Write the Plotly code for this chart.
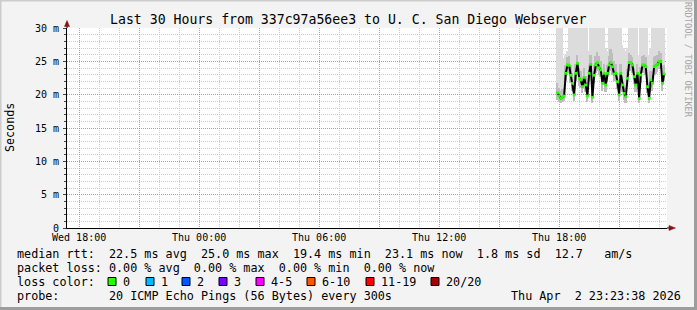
import plotly.graph_objects as go
import pandas as pd

# ---------------- data ----------------
times = pd.date_range("2026-04-02 17:55", periods=65, freq="5min")

median_ms = [20.3, 19.8, 19.45, 19.6, 19.8, 23.2, 24.45, 24.4, 22.9, 21.7,
             19.95, 23.2, 24.7, 22.45, 22.2, 21.2, 22.6, 21.45, 19.8, 23.2,
             24.55, 19.6, 22.9, 24.45, 24.8, 24.05, 23.7, 21.7, 23.2, 21.45,
             23.2, 24.45, 24.8, 24.2, 23.1, 23.2, 21.95, 19.95, 23.2, 21.45,
             20.2, 19.7, 22.45, 24.8, 24.8, 24.45, 22.7, 21.45, 23.2, 19.4,
             22.95, 24.45, 24.45, 24.2, 21.2, 19.45, 22.2, 21.7, 24.2, 24.3,
             24.55, 25.0, 24.95, 21.7, 23.1]

smoke_min = [19.2, 18.9, 18.8, 18.9, 19.0, 22.0, 23.3, 23.2, 21.8, 20.6,
             19.0, 22.0, 23.6, 21.3, 21.0, 20.2, 21.4, 20.4, 18.9, 22.0,
             23.4, 18.8, 21.8, 23.3, 23.6, 23.0, 22.6, 20.6, 22.0, 20.4,
             22.1, 23.3, 23.6, 23.0, 22.0, 22.0, 20.9, 19.0, 22.0, 20.4,
             19.2, 18.8, 21.3, 23.6, 23.6, 23.3, 21.6, 20.4, 22.0, 18.7,
             21.8, 23.3, 23.3, 23.0, 20.2, 18.7, 21.1, 20.6, 23.0, 23.1,
             23.4, 23.8, 23.8, 20.6, 22.0]

smoke_hi = [21.8, 21.0, 20.6, 20.8, 21.0, 24.4, 25.6, 25.8, 24.4, 23.2,
            21.2, 24.6, 26.0, 24.0, 23.6, 22.6, 24.0, 22.8, 21.0, 24.4,
            26.0, 21.0, 24.4, 25.8, 26.4, 25.8, 25.0, 23.0, 24.6, 22.8,
            24.4, 25.8, 26.8, 26.2, 25.0, 24.6, 23.2, 21.2, 24.6, 22.8,
            21.5, 21.0, 23.8, 26.2, 26.0, 25.6, 24.0, 22.8, 24.6, 20.6,
            24.2, 25.8, 26.0, 25.6, 22.6, 20.8, 23.6, 23.0, 25.6, 25.8,
            26.0, 26.6, 26.2, 23.0, 24.5]

smoke_max = [34, 34, 34, 34, 25.5, 26.0, 26.5, 34, 34, 34,
             34, 34, 34, 34, 34, 34, 34, 34, 34, 26.5,
             34, 34, 34, 34, 34, 34, 34, 34, 34, 27.0,
             26.5, 34, 34, 34, 34, 34, 34, 34, 34, 27.5,
             27.0, 26.5, 27.0, 34, 34, 34, 34, 34, 34, 26.0,
             34, 34, 34, 34, 34, 26.0, 27.0, 34, 34, 34,
             34, 34, 34, 34, 34]

x_start = "2026-04-01 17:23:38"
x_end = "2026-04-02 23:23:38"
tick_times = ["2026-04-01 18:00", "2026-04-01 21:00", "2026-04-02 00:00",
              "2026-04-02 03:00", "2026-04-02 06:00", "2026-04-02 09:00",
              "2026-04-02 12:00", "2026-04-02 15:00", "2026-04-02 18:00",
              "2026-04-02 21:00"]
tick_labels = ["Wed 18:00", "", "Thu 00:00", "", "Thu 06:00", "",
               "Thu 12:00", "", "Thu 18:00", ""]
y_ticks = [0, 5, 10, 15, 20, 25, 30]
y_labels = ["0", "5 m", "10 m", "15 m", "20 m", "25 m", "30 m"]

title_text = "Last 30 Hours from 337c97a56ee3 to U. C. San Diego Webserver"
legend_lines = [
    "median rtt:  22.5 ms avg  25.0 ms max  19.4 ms min  23.1 ms now  1.8 ms sd  12.7   am/s",
    "packet loss: 0.00 % avg  0.00 % max  0.00 % min  0.00 % now",
    "loss color:",
    "probe:       20 ICMP Echo Pings (56 Bytes) every 300s",
]
timestamp_text = "Thu Apr  2 23:23:38 2026"
loss_labels = ["0", "1", "2", "3", "4-5", "6-10", "11-19", "20/20"]
loss_colors = ["#26ff00", "#00b8ff", "#0059ff", "#7e00ff",
               "#ff00ff", "#ff5500", "#ff0000", "#a10000"]
loss_box_px = [108, 146, 182, 219, 256, 307, 366, 431]

# ---------------- geometry helpers ----------------
L, R, T, B = 67, 667, 28, 228
W, H = 697, 310
FONT = "DejaVu Sans Mono"


def px(xp):
    return (xp - L) / (R - L)


def py(yp):
    return (B - yp) / (B - T)


def nb(s):
    return s.replace(" ", "\u00a0")


fig = go.Figure()

fig.add_trace(go.Bar(
    x=times, y=[h - l for h, l in zip(smoke_max, smoke_min)], base=smoke_min,
    width=300000, marker=dict(color="#dcdcdc", line=dict(width=0)),
    hoverinfo="skip", showlegend=False))
fig.add_trace(go.Bar(
    x=times, y=[h - l for h, l in zip(smoke_hi, smoke_min)], base=smoke_min,
    width=300000, marker=dict(color="#bdbdbd", line=dict(width=0)),
    hoverinfo="skip", showlegend=False))
fig.add_trace(go.Scatter(
    x=times, y=median_ms, mode="lines",
    line=dict(color="#000000", width=2), showlegend=False, hoverinfo="skip"))
fig.add_trace(go.Scatter(
    x=times, y=median_ms, mode="markers",
    marker=dict(symbol="square", size=2.8, color=loss_colors[0], line=dict(width=0)),
    showlegend=False, hoverinfo="skip"))

major_grid = "rgba(240,90,90,0.55)"
minor_grid = "#cccccc"

fig.update_layout(
    width=W, height=H,
    margin=dict(l=L, r=W - R, t=T, b=H - B, pad=0),
    paper_bgcolor="#f3f3f3", plot_bgcolor="#ffffff",
    barmode="overlay", bargap=0,
    font=dict(family=FONT, size=10, color="#000000"),
    showlegend=False,
    xaxis=dict(
        type="date", range=[x_start, x_end], tickvals=tick_times, ticktext=tick_labels,
        showgrid=True, gridcolor=major_grid, griddash="1px,1px", gridwidth=1,
        minor=dict(dtick=3600000, tick0="2026-04-01 18:00", showgrid=True,
                   gridcolor=minor_grid, griddash="1px,1px", gridwidth=1),
        showline=True, linecolor="#000000", linewidth=1, zeroline=False,
        ticks="", tickfont=dict(family=FONT, size=10, color="#000000"),
        ticklabelstandoff=0, fixedrange=True,
    ),
    yaxis=dict(
        range=[0, 30], tickvals=y_ticks, ticktext=y_labels,
        showgrid=True, gridcolor=major_grid, griddash="1px,1px", gridwidth=1,
        minor=dict(dtick=1, showgrid=True, gridcolor=minor_grid, griddash="1px,1px",
                   gridwidth=1, ticks="outside", ticklen=2, tickcolor="#444444"),
        showline=True, linecolor="#000000", linewidth=1, zeroline=False,
        ticks="outside", ticklen=3, tickcolor="#444444",
        tickfont=dict(family=FONT, size=10, color="#000000"),
        ticklabelstandoff=2, fixedrange=True,
    ),
)

shapes = []
# axis extensions and arrows
shapes.append(dict(type="line", xref="paper", yref="paper", x0=0, x1=0, y0=1, y1=py(22),
                   line=dict(color="#000000", width=1)))
shapes.append(dict(type="line", xref="paper", yref="paper", x0=1, x1=px(672), y0=0, y1=0,
                   line=dict(color="#000000", width=1)))
shapes.append(dict(type="path", xref="paper", yref="paper",
                   path=f"M {px(64.5)},{py(26.5)} L {px(69.5)},{py(26.5)} L {px(67)},{py(20.5)} Z",
                   fillcolor="#8b1010", line=dict(color="#8b1010", width=0.5)))
shapes.append(dict(type="path", xref="paper", yref="paper",
                   path=f"M {px(669)},{py(225.5)} L {px(669)},{py(230.5)} L {px(675.5)},{py(228)} Z",
                   fillcolor="#8b1010", line=dict(color="#8b1010", width=0.5)))
# canvas frame
shapes.append(dict(type="line", xref="paper", yref="paper", x0=px(0), x1=px(W), y0=py(0.75), y1=py(0.75),
                   line=dict(color="#cccccc", width=1.5), layer="above"))
shapes.append(dict(type="line", xref="paper", yref="paper", x0=px(0.75), x1=px(0.75), y0=py(0), y1=py(H),
                   line=dict(color="#cccccc", width=1.5), layer="above"))
shapes.append(dict(type="line", xref="paper", yref="paper", x0=px(0), x1=px(W), y0=py(H - 1.5), y1=py(H - 1.5),
                   line=dict(color="#9d9d9d", width=3), layer="above"))
shapes.append(dict(type="line", xref="paper", yref="paper", x0=px(W - 1.5), x1=px(W - 1.5), y0=py(0), y1=py(H),
                   line=dict(color="#9d9d9d", width=3), layer="above"))
# loss colour boxes
for bx, col in zip(loss_box_px, loss_colors):
    shapes.append(dict(type="rect", xref="paper", yref="paper",
                       x0=px(bx), x1=px(bx + 8), y0=py(277.5), y1=py(285.5),
                       fillcolor=col, line=dict(color="#000000", width=1)))
fig.update_layout(shapes=shapes)

ann = []
ann.append(dict(text=nb(title_text), x=px(348), y=py(19), xref="paper", yref="paper",
                showarrow=False, xanchor="center", yanchor="middle",
                font=dict(family=FONT, size=13.2, color="#000000")))
ann.append(dict(text="Seconds", x=px(10), y=py(128), xref="paper", yref="paper",
                showarrow=False, xanchor="center", yanchor="middle", textangle=-90,
                font=dict(family=FONT, size=11.7, color="#000000")))
ann.append(dict(text=nb("RRDTOOL / TOBI OETIKER"), x=px(688), y=py(60), xref="paper", yref="paper",
                showarrow=False, xanchor="center", yanchor="middle", textangle=90,
                font=dict(family=FONT, size=8.7, color="#a6a6a6")))
for line, yy in zip(legend_lines, [254, 268, 282, 296]):
    ann.append(dict(text=nb(line), x=px(16), y=py(yy), xref="paper", yref="paper",
                    showarrow=False, xanchor="left", yanchor="middle",
                    font=dict(family=FONT, size=11.75, color="#000000")))
for bx, lab in zip(loss_box_px, loss_labels):
    ann.append(dict(text=lab, x=px(bx + 14), y=py(282), xref="paper", yref="paper",
                    showarrow=False, xanchor="left", yanchor="middle",
                    font=dict(family=FONT, size=11.75, color="#000000")))
ann.append(dict(text=nb(timestamp_text), x=px(682), y=py(296), xref="paper", yref="paper",
                showarrow=False, xanchor="right", yanchor="middle",
                font=dict(family=FONT, size=11.75, color="#000000")))
for a in ann:
    a["borderpad"] = 0
fig.update_layout(annotations=ann)

fig.write_html("out.html")
